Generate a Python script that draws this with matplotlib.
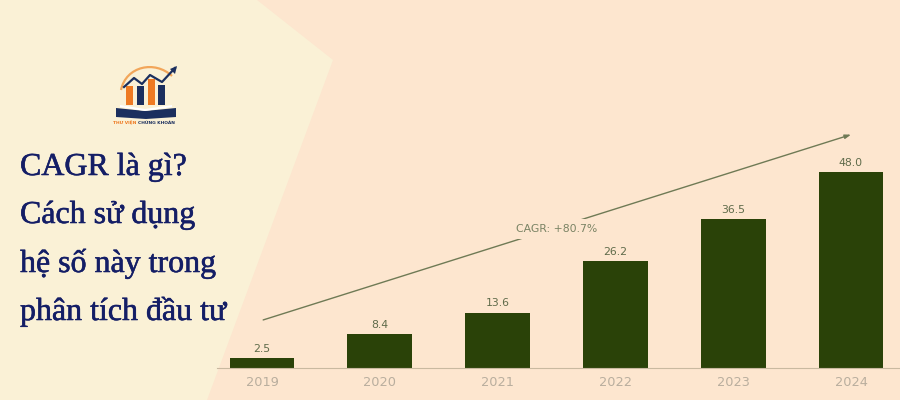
import matplotlib.pyplot as plt
import matplotlib.patheffects as pe
from matplotlib.patches import Polygon, Rectangle, PathPatch
from matplotlib.path import Path

years = ['2019', '2020', '2021', '2022', '2023', '2024']
values = [2.5, 8.4, 13.6, 26.2, 36.5, 48.0]
cagr_label = 'CAGR: +80.7%'
title_lines = ['CAGR là gì?', 'Cách sử dụng', 'hệ số này trong', 'phân tích đầu tư']

peach = '#FDE6CF'
cream = '#FAF1D6'
bar_color = '#2A4208'
navy = '#141E66'
logo_navy = '#1B2F5E'
logo_orange = '#EE7A22'

fig = plt.figure(figsize=(9, 4), dpi=100, facecolor=peach)

# fond + logo en coordonnees pixel
bg = fig.add_axes([0, 0, 1, 1])
bg.set_xlim(0, 900)
bg.set_ylim(400, 0)
bg.axis('off')
bg.add_patch(Polygon([(0, 0), (257, 0), (333, 60), (207, 400), (0, 400)], fc=cream, ec='none'))

# titre
baselines = [175, 223, 272, 320]
for line, y in zip(title_lines, baselines):
    bg.text(20, y, line, family='Liberation Serif', fontsize=23, color=navy, va='baseline', ha='left',
            path_effects=[pe.withStroke(linewidth=0.4, foreground=navy)])

# logo
arc = Path([(121, 90), (126, 66), (155, 60), (172, 76)], [Path.MOVETO, Path.CURVE4, Path.CURVE4, Path.CURVE4])
bg.add_patch(PathPatch(arc, fc='none', ec='#F2A65A', lw=1.6))
for x0, top, col in [(126, 86, logo_orange), (137, 86, logo_navy), (148, 79, logo_orange), (158, 85, logo_navy)]:
    bg.add_patch(Rectangle((x0, top), 7, 105 - top, fc=col, ec='none'))
bg.plot([124, 134, 142, 150, 162, 175], [87, 78, 84, 75, 82, 68], color=logo_navy, lw=1.6)
bg.add_patch(Polygon([(177, 66), (170, 69), (175, 74)], fc=logo_navy, ec='none'))
bg.add_patch(Polygon([(116, 108), (145, 111), (176, 108), (176, 117), (146, 119), (116, 117)], fc=logo_navy, ec='none'))
bg.add_patch(Polygon([(120, 105), (145, 109), (172, 105), (172, 107), (145, 111), (120, 107)], fc='white', ec='none'))
bg.text(113, 124, 'THƯ VIỆN', fontsize=3.2, color=logo_orange, fontweight='bold', va='baseline', ha='left')
bg.text(138, 124, 'CHỨNG KHOÁN', fontsize=3.2, color=logo_navy, fontweight='bold', va='baseline', ha='left')

# graphique
ax = fig.add_axes([217 / 900, 1 - 368 / 400, (900 - 217) / 900, 268 / 400])
ax.patch.set_alpha(0)
xs = list(range(len(years)))
ax.bar(xs, values, width=0.55, color=bar_color)
ax.set_xlim(-0.382, 5.416)
ax.set_ylim(0, 65.8)
for x, v in zip(xs, values):
    ax.annotate(f'{v:.1f}', (x, v), xytext=(0, 3), textcoords='offset points', ha='center', va='bottom',
                fontsize=7.8, color='#5F6B4A')

ax.set_xticks(xs, years)
ax.tick_params(axis='x', length=0, pad=6, labelsize=9.3, labelcolor='#B9AE9E')
ax.set_yticks([])
for s in ['top', 'left', 'right']:
    ax.spines[s].set_visible(False)
ax.spines['bottom'].set_color('#C9B9A0')
ax.spines['bottom'].set_linewidth(0.8)

# fleche CAGR
ax.annotate('', xy=(5.0, 57.3), xytext=(0.01, 11.8),
            arrowprops=dict(arrowstyle='-|>,head_length=0.35,head_width=0.12', color='#6F7A55', lw=1,
                            shrinkA=0, shrinkB=0))
ax.text(2.502, 34.2, cagr_label, ha='center', va='center', fontsize=7.8, color='#7A8364',
        bbox=dict(fc=peach, ec='none', pad=3.5))

fig.savefig('out.png', dpi=100, facecolor=peach)
